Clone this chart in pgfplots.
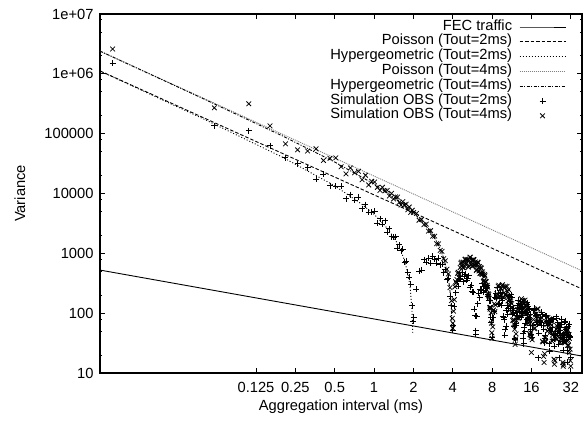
\documentclass[border=0pt]{standalone}
\usepackage{fontspec}
\setmainfont{Liberation Sans}
\usepackage{pgfplots}
\pgfplotsset{compat=1.18}

\begin{document}
\begin{tikzpicture}
\useasboundingbox (-100pt,-48pt) rectangle (484pt,373pt);
\begin{axis}[
  at={(0pt,0pt)}, anchor=south west,
  scale only axis, width=482pt, height=359pt,
  xmode=log, ymode=log,
  xmin=0.008, xmax=39, ymin=10, ymax=1e7,
  xtick={0.125,0.25,0.5,1,2,4,8,16,32},
  xticklabels={0.125,0.25,0.5,1,2,4,8,16,32},
  ytick={10,100,1000,10000,100000,1000000,10000000},
  yticklabels={10,100,1000,10000,100000,1e+06,1e+07},
  minor ytick={20,50,80,200,500,800,2000,5000,8000,20000,50000,80000,200000,500000,800000,2000000,5000000,8000000},
  xminorticks=false,
  major tick length=5pt, minor tick length=2.5pt,
  every tick/.style={black, line width=0.8pt},
  axis line style={line width=1.2pt},
  /pgf/number format/assume math mode=true,
  tick label style={font=\fontsize{14.7}{17}\selectfont},
  xticklabel style={yshift=-6pt},
  yticklabel style={xshift=-3pt},
  xlabel={Aggregation interval (ms)},
  ylabel={Variance},
  label style={font=\fontsize{14.7}{17}\selectfont},
  x label style={at={(axis description cs:0.5,-0.0947)}, anchor=center},
  y label style={at={(axis description cs:-0.166,0.5)}, anchor=center},
  legend style={draw=none, fill=none, inner sep=0pt, outer sep=0pt,
    at={(0.9668,0.9844)}, anchor=north east,
    font=\fontsize{14.7}{17}\selectfont,
    row sep=0pt, column sep=7pt,
    cells={anchor=center},
    nodes={inner sep=0pt, text height=10.6pt, text depth=4.2pt}},
  legend cell align=right, legend plot pos=right,
  legend image code/.code={\draw[mark repeat=2,mark phase=2,#1] plot coordinates {(0pt,0pt) (23pt,0pt) (46pt,0pt)};},
]

% analytic curves
\addplot[black, line width=0.9pt] coordinates {(0.008,525) (39,19.2)};
\addlegendentry{FEC traffic}
\addplot[black, line width=0.9pt, dash pattern=on 3.5pt off 2pt] coordinates {(0.008,1120000) (39,254)};
\addlegendentry{Poisson (Tout=2ms)}
\addplot[black, line width=0.9pt, dash pattern=on 1pt off 2pt] coordinates {
(0.008,1115520) (0.05,174720) (0.2,40320) (0.5,13440) (0.8,6720) (1,4480) (1.2,2987)
(1.4,1920) (1.5,1493) (1.6,1120) (1.7,790.6) (1.8,497.8) (1.85,363.2) (1.9,235.8)
(1.95,114.9) (1.98,45.3)};
\addlegendentry{Hypergeometric (Tout=2ms)}
\addplot[gray, line width=0.9pt, dash pattern=on 1pt off 1pt] coordinates {(0.008,2400000) (39,510)};
\addlegendentry{Poisson (Tout=4ms)}
\addplot[black, line width=0.9pt, dash pattern=on 3pt off 1.5pt on 1pt off 1.5pt] coordinates {
(0.008,2395200) (0.05,379200) (0.2,91200) (0.5,33600) (1,14400) (1.5,8000) (2,4800)
(2.5,2880) (2.8,2057) (3,1600) (3.2,1200) (3.4,847) (3.6,533) (3.7,389) (3.8,252.6)
(3.9,123.1) (3.96,48.5)};
\addlegendentry{Hypergeometric (Tout=4ms)}

% simulation, Tout=2ms
\addplot[only marks, mark=+, mark size=3pt, black, line width=0.75pt] coordinates {
(0.01,1500000) (0.06,135000) (0.11,112000) (0.16,63000) (0.21,39400) (0.26,31300)
(0.31,26900) (0.36,17300) (0.41,20800) (0.46,13500) (0.51,13100) (0.56,13200)
(0.61,8170) (0.66,9550) (0.71,7730) (0.76,8770) (0.81,5590) (0.86,6530) (0.91,4830)
(0.96,4850) (1.01,5050) (1.06,3180) (1.11,3770) (1.16,3080) (1.21,3510) (1.26,2240)
(1.31,2600) (1.36,1900) (1.41,1875) (1.46,1905) (1.51,1230) (1.56,1390) (1.61,1100)
(1.66,1170) (1.71,710) (1.76,736) (1.81,486) (1.86,400) (1.91,305) (1.96,134) (2.0,74)
(2.01,85) (2.11,252) (2.21,509) (2.31,529) (2.41,783) (2.51,709) (2.61,826) (2.71,687)
(2.81,890) (2.91,795) (3.01,691) (3.11,838) (3.21,646) (3.31,653) (3.41,472) (3.51,530)
(3.61,363) (3.71,380) (3.81,194) (3.91,134) (4.0,52)
(4.01,62) (4.11,131) (4.21,220) (4.31,336) (4.41,280) (4.51,384) (4.61,373) (4.71,472)
(4.81,334) (4.91,419) (5.01,453) (5.11,357) (5.21,377) (5.31,421) (5.41,271) (5.51,296)
(5.61,229) (5.71,224) (5.81,116) (5.91,91) (6.0,45)
(6.01,51) (6.11,88) (6.21,144) (6.31,218) (6.41,182) (6.51,250) (6.61,243) (6.71,309)
(6.81,222) (6.91,279) (7.01,303) (7.11,241) (7.21,257) (7.31,289) (7.41,189) (7.51,207)
(7.61,162) (7.71,162) (7.81,86) (7.91,71) (8.0,40)
(8.1,84) (8.3,106) (8.5,218) (8.7,178) (8.9,217) (9.1,141) (9.3,221) (9.5,178) (9.7,90)
(9.9,78) (10.1,54) (10.3,111) (10.5,97) (10.7,188) (10.9,190) (11.1,129) (11.3,185)
(11.5,113) (11.7,99) (11.9,38) (12.1,62) (12.3,102) (12.5,91) (12.7,163) (12.9,122)
(13.1,141) (13.3,86) (13.5,126) (13.7,92) (13.9,38) (14.1,58) (14.3,68) (14.5,103)
(14.7,78) (14.9,140) (15.1,132) (15.3,85) (15.5,114) (15.7,63) (15.9,45)
(8.2,84) (8.4,187) (8.6,179) (8.8,265) (9.0,144) (9.2,215) (9.4,137) (9.6,162) (9.8,85)
(10.0,43) (10.2,60) (10.4,135) (10.6,119) (10.8,196) (11.0,156) (11.2,203) (11.4,96)
(11.6,121) (11.8,60) (12.0,36) (12.2,68) (12.4,134) (12.6,87) (12.8,147) (13.0,109)
(13.2,156) (13.4,109) (13.6,122) (13.8,46) (14.0,31) (14.2,50) (14.4,106) (14.6,100)
(14.8,150) (15.0,82) (15.2,122) (15.4,79) (15.6,97) (15.8,54)
(16.2,39) (16.6,110) (17.0,116) (17.4,70) (17.8,65) (18.2,46) (18.6,85) (19.0,63)
(19.4,94) (19.8,54) (20.2,38) (20.6,91) (21.0,73) (21.4,75) (21.8,31) (22.2,52)
(22.6,78) (23.0,59) (23.4,81) (23.8,37) (24.2,42) (24.6,43) (25.0,83) (25.4,69)
(25.8,30) (26.2,46) (26.6,51) (27.0,66) (27.4,39) (27.8,43) (28.2,40) (28.6,42)
(29.0,74) (29.4,47) (29.8,36) (30.2,24) (30.6,61) (31.0,64) (31.4,40) (31.8,41) (32.0,18)
(16.4,62) (16.8,120) (17.2,92) (17.6,94) (18.0,18) (18.4,76) (18.8,71) (19.2,104)
(19.6,62) (20.0,32) (20.4,43) (20.8,88) (21.2,62) (21.6,71) (22.0,23) (22.4,75)
(22.8,50) (23.2,78) (23.6,44) (24.0,28) (24.4,50) (24.8,87) (25.2,46) (25.6,55)
(26.0,18) (26.4,59) (26.8,59) (27.2,79) (27.6,34) (28.0,24) (28.4,37) (28.8,70)
(29.2,54) (29.6,57) (30.0,15) (30.4,48) (30.8,43) (31.2,65) (31.6,41)
};
\addlegendentry{Simulation OBS (Tout=2ms)}

% simulation, Tout=4ms
\addplot[only marks, mark=x, mark size=3.3pt, black, line width=0.75pt] coordinates {
(0.01,2600000) (0.06,270000) (0.11,316000) (0.16,135000) (0.21,67600) (0.26,53700)
(0.31,51400) (0.36,55800) (0.41,35700) (0.46,38800) (0.51,39400) (0.56,28000)
(0.61,21300) (0.66,26700) (0.71,22200) (0.76,23500) (0.81,17000) (0.86,20200)
(0.91,13900) (0.96,16000) (1.01,15600) (1.06,12650) (1.11,11250) (1.16,12700)
(1.21,11070) (1.26,11270) (1.31,9070) (1.36,10060) (1.41,8110) (1.46,8770) (1.51,8710)
(1.56,7130) (1.61,6410) (1.66,7310) (1.71,6430) (1.76,6600) (1.81,5340) (1.86,5960)
(1.91,4830) (1.96,5250)
(2.01,4810) (2.11,4640) (2.21,3580) (2.31,3690) (2.41,3010) (2.51,3080) (2.61,2350)
(2.71,2400) (2.81,1930) (2.91,1940) (3.01,1450) (3.11,1440) (3.21,1120) (3.31,1080)
(3.41,813) (3.51,752) (3.61,541) (3.71,452) (3.81,267) (3.91,162) (3.97,82) (4.0,56)
(4.01,68) (4.11,168) (4.21,335) (4.31,364) (4.41,482) (4.51,448) (4.61,686) (4.71,620)
(4.81,715) (4.91,616) (5.01,800) (5.11,679) (5.21,756) (5.31,621) (5.41,860) (5.51,717)
(5.61,776) (5.71,630) (5.81,779) (5.91,633) (6.01,675) (6.11,534) (6.21,714) (6.31,575)
(6.41,601) (6.51,471) (6.61,563) (6.71,441) (6.81,453) (6.91,345) (7.01,440) (7.11,337)
(7.21,334) (7.31,246) (7.41,272) (7.51,194) (7.61,178) (7.71,117) (7.81,123) (7.91,68)
(8.0,38)
(4.06,108) (4.16,276) (4.26,323) (4.36,463) (4.46,400) (4.56,578) (4.66,713) (4.76,578)
(4.86,572) (4.96,790) (5.06,673) (5.16,787) (5.26,586) (5.36,759) (5.46,858) (5.56,646)
(5.66,603) (5.76,787) (5.86,641) (5.96,718) (6.06,514) (6.16,640) (6.26,699) (6.36,508)
(6.46,459) (6.56,578) (6.66,455) (6.76,490) (6.86,337) (6.96,404) (7.06,420) (7.16,291)
(7.26,247) (7.36,292) (7.46,211) (7.56,205) (7.66,124) (7.76,125) (7.86,101) (7.96,47)
(8.1,59) (8.3,143) (8.5,137) (8.7,211) (8.9,282) (9.1,187) (9.3,257) (9.5,288)
(9.7,187) (9.9,220) (10.1,282) (10.3,190) (10.5,229) (10.7,248) (10.9,137) (11.1,155)
(11.3,144) (11.5,75) (11.7,66) (11.9,54) (12.0,30) (12.1,37) (12.3,75) (12.5,114)
(12.7,83) (12.9,122) (13.1,144) (13.3,99) (13.5,122) (13.7,164) (13.9,116) (14.1,145)
(14.3,165) (14.5,97) (14.7,118) (14.9,118) (15.1,68) (15.3,70) (15.5,78) (15.7,43)
(15.9,39) (16.0,22)
(8.2,113) (8.4,106) (8.6,195) (8.8,185) (9.0,294) (9.2,192) (9.4,260) (9.6,299)
(9.8,185) (10.0,265) (10.2,206) (10.4,281) (10.6,160) (10.8,190) (11.0,192) (11.2,103)
(11.4,123) (11.6,78) (11.8,77) (12.2,45) (12.4,83) (12.6,116) (12.8,83) (13.0,133)
(13.2,116) (13.4,174) (13.6,110) (13.8,144) (14.0,161) (14.2,98) (14.4,136) (14.6,105)
(14.8,140) (15.0,78) (15.2,88) (15.4,86) (15.6,44) (15.8,47)
(16.2,36) (16.6,78) (17.0,56) (17.4,97) (17.8,118) (18.2,70) (18.6,80) (19.0,85)
(19.4,34) (19.8,19) (20.2,21) (20.6,34) (21.0,65) (21.4,85) (21.8,54) (22.2,66)
(22.6,76) (23.0,34) (23.4,36) (23.8,17) (24.2,16) (24.6,44) (25.0,62) (25.4,41)
(25.8,53) (26.2,65) (26.6,32) (27.0,37) (27.4,43) (27.8,15) (28.2,14) (28.6,44)
(29.0,32) (29.4,43) (29.8,55) (30.2,29) (30.6,35) (31.0,44) (31.4,22) (31.8,16) (32.0,13)
(16.4,66) (16.8,55) (17.2,94) (17.6,81) (18.0,117) (18.4,67) (18.8,78) (19.2,73)
(19.6,33) (20.0,15) (20.4,38) (20.8,72) (21.2,50) (21.6,70) (22.0,80) (22.4,48)
(22.8,63) (23.2,43) (23.6,47) (24.0,14) (24.4,38) (24.8,54) (25.2,37) (25.6,57)
(26.0,48) (26.4,66) (26.8,37) (27.2,42) (27.6,38) (28.0,13) (28.4,33) (28.8,33)
(29.2,53) (29.6,35) (30.0,46) (30.4,52) (30.8,29) (31.2,38) (31.6,25)
};
\addlegendentry{Simulation OBS (Tout=4ms)}

\end{axis}
\end{tikzpicture}
\end{document}
